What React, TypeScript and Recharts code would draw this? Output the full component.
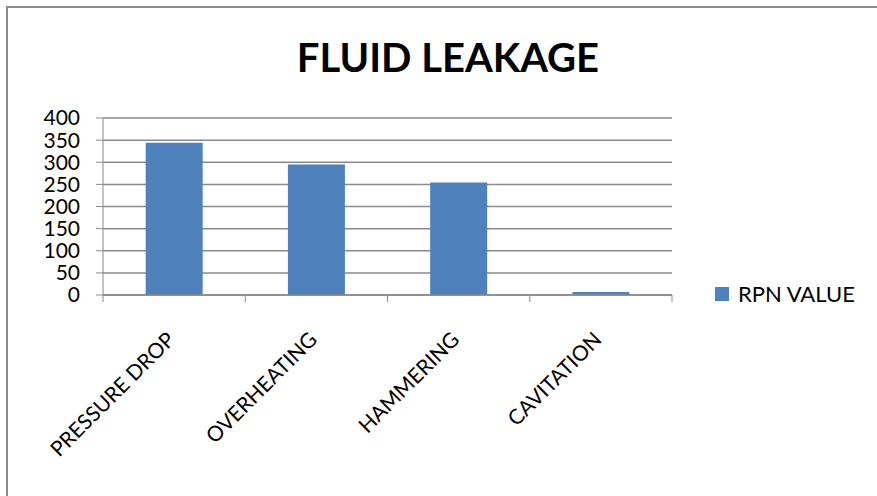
import React from "react";
import { BarChart, Bar, XAxis, YAxis, CartesianGrid } from "recharts";

const categories = ["PRESSURE DROP", "OVERHEATING", "HAMMERING", "CAVITATION"];
const rpnValues = [344, 295, 254, 7];
const yTicks = [0, 50, 100, 150, 200, 250, 300, 350, 400];
const seriesName = "RPN VALUE";

const data = categories.map((name, i) => ({ name, rpn: rpnValues[i] }));

const font = "Lato, 'Open Sans', sans-serif";
const grey = "#8a8a8a";
const blue = "#4f81bd";

// label rotated like Excel, plus tick marks at the category boundaries
const CategoryTick = (props: any) => {
  const { x, y, payload, index, visibleTicksCount } = props;
  const half = payload.offset || 0;
  const last = index === visibleTicksCount - 1;
  return (
    <g>
      <line x1={x - half} x2={x - half} y1={y} y2={y + 7} stroke={grey} />
      {last && <line x1={x + half} x2={x + half} y1={y} y2={y + 7} stroke={grey} />}
      <g transform={`translate(${x + 2},${y + 46})`}>
        <text
          transform="rotate(-45)"
          textAnchor="end"
          fontFamily={font}
          fontSize={21}
          fill="#000"
        >
          {payload.value}
        </text>
      </g>
    </g>
  );
};

export default function App() {
  return (
    <div
      style={{
        position: "absolute",
        left: 6,
        top: 6,
        width: 871,
        height: 490,
        borderLeft: `2px solid ${grey}`,
        borderTop: `2px solid ${grey}`,
        overflow: "hidden",
      }}
    >
      <div
        style={{
          position: "absolute",
          left: 0,
          top: 27,
          width: 880,
          textAlign: "center",
          fontFamily: font,
          fontWeight: 700,
          fontSize: 40,
          lineHeight: "44px",
        }}
      >
        FLUID LEAKAGE
      </div>
      <BarChart
        width={869}
        height={488}
        data={data}
        margin={{ top: 110, right: 205, bottom: 51, left: 35 }}
        barCategoryGap="30%"
      >
        <CartesianGrid vertical={false} stroke={grey} strokeWidth={1.5} />
        <XAxis
          dataKey="name"
          height={150}
          axisLine={{ stroke: grey, strokeWidth: 1.5 }}
          tickLine={false}
          tickSize={0}
          tickMargin={0}
          interval={0}
          tick={<CategoryTick />}
        />
        <YAxis
          domain={[0, 400]}
          ticks={yTicks}
          width={60}
          interval={0}
          tickSize={7}
          tickMargin={16}
          tickLine={{ stroke: grey }}
          axisLine={{ stroke: grey }}
          tick={{ fontFamily: font, fontSize: 21, fill: "#000" }}
        />
        <Bar dataKey="rpn" name={seriesName} fill={blue} isAnimationActive={false} />
      </BarChart>
      <div
        style={{
          position: "absolute",
          left: 707,
          top: 272,
          display: "flex",
          alignItems: "center",
          fontFamily: font,
          fontSize: 22,
          lineHeight: "28px",
        }}
      >
        <span style={{ width: 14, height: 14, background: blue, display: "inline-block", marginRight: 9 }} />
        <span>{seriesName}</span>
      </div>
    </div>
  );
}
